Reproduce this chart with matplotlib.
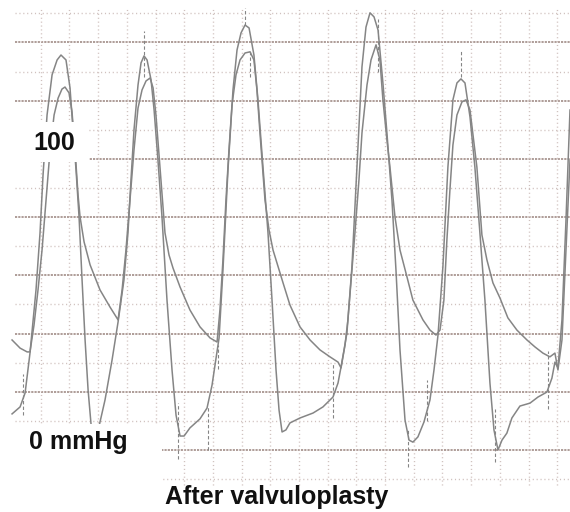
import matplotlib
matplotlib.use("Agg")
import matplotlib.pyplot as plt
from matplotlib.patches import Rectangle

lv_t = [0.0, 0.056, 0.091, 0.125, 0.167, 0.195, 0.216, 0.244, 0.279, 0.314, 0.341, 0.376,
        0.404, 0.425, 0.446, 0.467, 0.488, 0.509, 0.530, 0.551, 0.564, 0.592, 0.613, 0.648,
        0.697, 0.739, 0.780, 0.808, 0.829, 0.850, 0.878, 0.899, 0.920, 0.941, 0.969, 0.990,
        1.017, 1.045, 1.080, 1.115, 1.143, 1.171, 1.199, 1.240, 1.310, 1.359, 1.394, 1.422,
        1.443, 1.470, 1.505, 1.540, 1.568, 1.596, 1.624, 1.652, 1.686, 1.714, 1.749, 1.784,
        1.812, 1.840, 1.861, 1.882, 1.909, 1.937, 2.007, 2.098, 2.167, 2.237, 2.272, 2.293,
        2.314, 2.334, 2.369, 2.404, 2.439, 2.467, 2.495, 2.523, 2.551, 2.585, 2.613, 2.648,
        2.676, 2.704, 2.739, 2.767, 2.794, 2.829, 2.871, 2.913, 2.941, 2.969, 3.003, 3.038,
        3.073, 3.101, 3.129, 3.157, 3.192, 3.226, 3.261, 3.296, 3.331, 3.359, 3.387, 3.415,
        3.449, 3.484, 3.540, 3.610, 3.666, 3.728, 3.763, 3.784, 3.805, 3.833, 3.861, 3.889]
lv_p = [12.4, 14.8, 19.6, 33.3, 55.0, 74.6, 94.5, 115.1, 128.9, 134.0, 135.7, 134.0,
        124.4, 110.0, 96.2, 80.1, 58.4, 37.8, 20.6, 8.6, 4.1, 4.8, 9.6, 17.2,
        30.9, 44.0, 58.4, 74.6, 92.8, 110.0, 125.4, 133.0, 135.4, 134.0, 127.1, 116.8,
        99.6, 80.1, 51.5, 27.5, 12.0, 4.8, 4.8, 7.6, 10.7, 14.4, 22.3, 31.6,
        38.5, 61.8, 96.2, 123.7, 137.4, 143.3, 146.0, 145.0, 135.7, 120.3, 97.2, 74.6,
        51.5, 27.5, 13.7, 6.2, 6.9, 9.3, 11.0, 12.7, 14.8, 18.2, 23.0, 28.5,
        34.4, 40.2, 62.9, 97.2, 131.6, 145.3, 150.2, 148.8, 144.3, 126.1, 108.9, 85.9,
        61.8, 34.4, 10.3, 3.4, 2.7, 4.5, 9.6, 17.2, 27.5, 39.5, 62.9, 97.2,
        120.3, 126.1, 127.5, 126.1, 114.4, 97.2, 74.6, 51.5, 23.0, 6.9, 0.0, 3.4,
        5.8, 11.0, 15.1, 16.1, 18.2, 19.9, 24.7, 30.2, 28.2, 44.7, 79.0, 116.8]

ao_t = [0.0, 0.056, 0.105, 0.125, 0.153, 0.181, 0.209, 0.237, 0.265, 0.293, 0.321, 0.348,
        0.369, 0.397, 0.418, 0.439, 0.460, 0.474, 0.502, 0.544, 0.613, 0.683, 0.739, 0.767,
        0.794, 0.822, 0.850, 0.878, 0.906, 0.934, 0.962, 0.983, 1.003, 1.031, 1.066, 1.094,
        1.122, 1.171, 1.240, 1.310, 1.380, 1.429, 1.449, 1.470, 1.491, 1.512, 1.533, 1.561,
        1.589, 1.624, 1.659, 1.686, 1.707, 1.728, 1.763, 1.791, 1.819, 1.889, 1.937, 2.007,
        2.077, 2.146, 2.216, 2.272, 2.293, 2.321, 2.341, 2.369, 2.390, 2.418, 2.439, 2.474,
        2.502, 2.537, 2.564, 2.585, 2.613, 2.634, 2.669, 2.704, 2.753, 2.794, 2.864, 2.913,
        2.955, 2.983, 3.010, 3.031, 3.052, 3.073, 3.101, 3.136, 3.164, 3.192, 3.213, 3.240,
        3.275, 3.310, 3.352, 3.401, 3.456, 3.519, 3.589, 3.645, 3.700, 3.749, 3.784, 3.805,
        3.833, 3.861, 3.889]
ao_p = [37.8, 35.0, 33.7, 33.7, 42.9, 55.0, 68.7, 85.9, 103.1, 115.1, 120.9, 124.0,
        124.7, 122.7, 116.1, 103.1, 87.6, 80.1, 71.5, 63.6, 55.0, 49.1, 44.7, 55.0,
        68.7, 85.9, 103.1, 117.5, 123.7, 126.8, 127.8, 124.4, 115.1, 97.2, 74.6, 67.0,
        62.5, 56.0, 48.1, 42.3, 38.5, 37.1, 48.1, 65.3, 85.9, 103.1, 118.5, 128.9,
        134.0, 136.4, 136.8, 134.0, 123.7, 108.9, 85.9, 75.6, 68.7, 57.4, 49.8, 42.3,
        37.8, 34.4, 32.0, 30.2, 28.2, 36.1, 44.7, 61.8, 74.6, 92.8, 108.9, 125.4,
        134.0, 139.2, 134.0, 120.3, 106.5, 97.2, 80.1, 68.7, 59.4, 51.5, 44.7, 41.2,
        39.5, 41.2, 51.5, 72.2, 89.3, 104.8, 115.1, 119.6, 120.3, 116.8, 108.2, 97.2,
        73.9, 65.3, 57.4, 52.2, 45.4, 41.2, 37.8, 35.4, 33.3, 32.0, 33.3, 27.5,
        37.8, 68.7, 99.6]

# short dashed timing marks
mark_t = [0.077, 0.92, 1.624, 1.66, 2.55, 3.13, 1.157, 1.366, 1.435, 2.237, 2.76, 2.89, 3.366, 3.735]
mark_lo = [12, 128, 146, 128, 130, 128, -3, 0, 28, 11, -6, 10, -4, 14]
mark_hi = [26, 144, 152, 137, 148, 137, 16, 15, 36, 30, 7, 24, 14, 34]

fig = plt.figure(figsize=(5.7, 5.12), dpi=100)
ax = fig.add_axes([0, 0, 1, 1])
ax.set_xlim(-0.084, 3.889)
ax.set_ylim(-21.3, 154.6)
ax.axis("off")

# paper grid
minor_col = "#cfc0bd"
major_col = "#a89590"
for p in range(-10, 151, 10):
    if p % 20 == 0:
        ax.hlines(p, 0.021, 3.889, colors=major_col, lw=1.3, linestyles=(0, (1.2, 0.6)), zorder=1)
    else:
        ax.hlines(p, 0.021, 3.889, colors=minor_col, lw=1.0, linestyles=(0, (0.8, 2.0)), zorder=1)
for k in range(1, 20):
    ax.vlines(0.2 * k, -12, 152, colors=minor_col, lw=1.0, linestyles=(0, (0.8, 2.0)), zorder=1)

# pressure traces
trace_col = "#858585"
ax.plot(lv_t, lv_p, color=trace_col, lw=1.1, zorder=2)
ax.plot(ao_t, ao_p, color=trace_col, lw=1.1, zorder=2)
ax.vlines(mark_t, mark_lo, mark_hi, colors=trace_col, lw=0.8, linestyles=(0, (3, 2)), zorder=2)

# label boxes
ax.add_patch(Rectangle((-0.09, 99.0), 0.627, 13.8, facecolor="white", edgecolor="none", zorder=3))
ax.add_patch(Rectangle((-0.09, -25), 1.135, 34.0, facecolor="white", edgecolor="none", zorder=3))

font = dict(family="Liberation Sans", weight="bold", size=18, color="#111111", zorder=4)
ax.text(0.293, 105.5, "100", ha="center", va="center", **font)
ax.text(0.46, 2.7, "0 mmHg", ha="center", va="center", **font)
ax.text(1.847, -16.1, "After valvuloplasty", ha="center", va="center", **font)

fig.savefig("out.png", dpi=100)
